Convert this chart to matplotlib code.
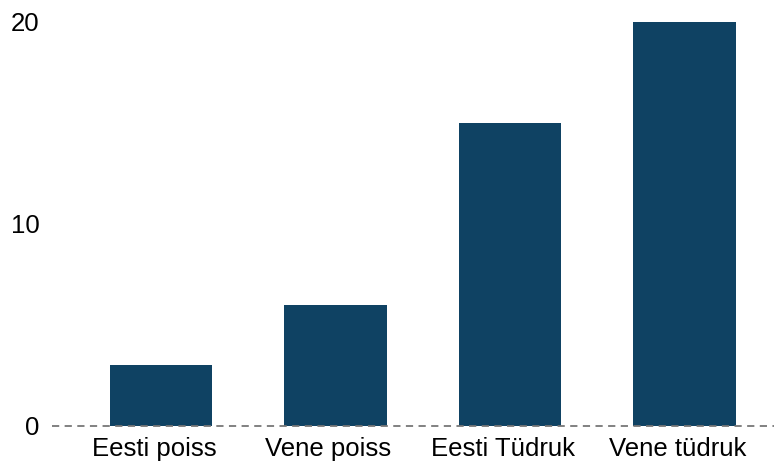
import matplotlib.pyplot as plt
import matplotlib.transforms as mtransforms

categories = ["Eesti poiss", "Vene poiss", "Eesti Tüdruk", "Vene tüdruk"]
values = [3, 6, 15, 20]
yticks = [0, 10, 20]

plt.rcParams['font.family'] = ['Liberation Sans', 'DejaVu Sans']

fig = plt.figure(figsize=(7.74, 4.63), dpi=100)
ax = fig.add_axes([52 / 774, 37 / 463, 1 - 52 / 774, (463 - 37 - 15) / 463])

ax.bar(range(len(categories)), values, width=0.585, color='#0f4263', zorder=2)

ax.axhline(0, color='#777777', linestyle=(0, (4, 3)), linewidth=1.3, zorder=3, clip_on=False)

ax.set_xlim(-0.625, 3.513)
ax.set_ylim(0, 20.35)
ax.set_xticks(range(len(categories)))
ax.set_xticklabels(categories)
ax.set_yticks(yticks)
ax.tick_params(axis='both', length=0, labelsize=18.5, colors='black')
ax.tick_params(axis='x', pad=8)
ax.tick_params(axis='y', pad=9)

# nudge labels a little, as in the original
xoff = mtransforms.ScaledTranslation(-7 / 100, 0, fig.dpi_scale_trans)
yoff = mtransforms.ScaledTranslation(0, -2 / 100, fig.dpi_scale_trans)
for lbl in ax.get_xticklabels():
    lbl.set_transform(lbl.get_transform() + xoff)
for lbl in ax.get_yticklabels():
    lbl.set_va('center')
    lbl.set_transform(lbl.get_transform() + yoff)

for s in ax.spines.values():
    s.set_visible(False)

fig.savefig('out.png', dpi=100)
